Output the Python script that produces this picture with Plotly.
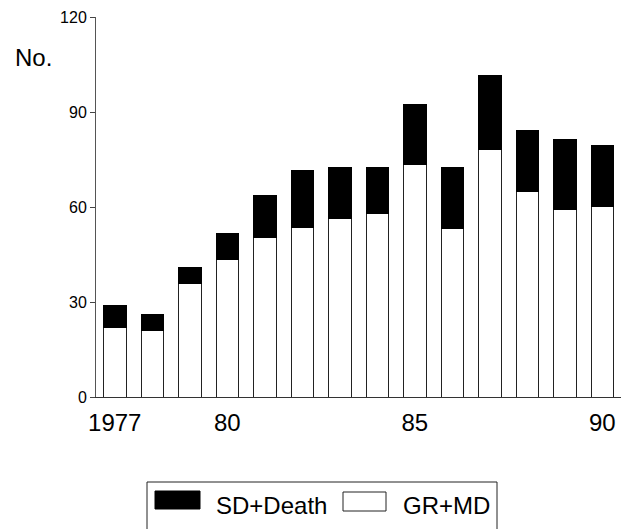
import plotly.graph_objects as go

years = [1977, 1978, 1979, 1980, 1981, 1982, 1983, 1984, 1985, 1986, 1987, 1988, 1989, 1990]
gr_md = [22, 21, 36, 43.5, 50.5, 53.5, 56.3, 58, 73.3, 53.2, 78.3, 65, 59.2, 60.2]
sd_death = [7, 5, 5, 8, 13, 18, 16.3, 14.4, 19.1, 19.2, 23.2, 19.3, 22.1, 19.1]
x_tick_vals = [1977, 1980, 1985, 1990]
x_tick_text = ["1977", "80", "85", "90"]
y_tick_vals = [0, 30, 60, 90, 120]
legend_labels = ["SD+Death", "GR+MD"]

FONT = "Liberation Sans, Arial, sans-serif"
W, H = 626, 529
L, R, T, B = 96, 5, 17, 132
PW = W - L - R
PH = H - T - B


def px(x):
    return (x - L) / PW


def py(y):
    return (H - B - y) / PH


fig = go.Figure()
fig.add_trace(go.Bar(
    x=years, y=gr_md, name=legend_labels[1], width=0.6,
    marker=dict(color="white", line=dict(color="#222", width=1)),
    showlegend=False,
))
fig.add_trace(go.Bar(
    x=years, y=sd_death, name=legend_labels[0], width=0.6,
    marker=dict(color="black", line=dict(color="black", width=1)),
    showlegend=False,
))

shapes = [
    dict(type="rect", xref="paper", yref="paper",
         x0=px(147), x1=px(497), y0=py(482), y1=py(545),
         line=dict(color="#222", width=1), fillcolor="rgba(0,0,0,0)"),
    dict(type="rect", xref="paper", yref="paper",
         x0=px(155), x1=px(200), y0=py(491), y1=py(509),
         line=dict(color="black", width=1), fillcolor="black"),
    dict(type="rect", xref="paper", yref="paper",
         x0=px(343), x1=px(386), y0=py(492), y1=py(511),
         line=dict(color="#222", width=1), fillcolor="white"),
]

annotations = [
    dict(text="No.", xref="paper", yref="paper", x=px(33), y=py(57),
         xanchor="center", yanchor="middle", showarrow=False,
         font=dict(family=FONT, size=24, color="black")),
    dict(text=legend_labels[0], xref="paper", yref="paper", x=px(214), y=py(506),
         xanchor="left", yanchor="middle", showarrow=False,
         font=dict(family=FONT, size=24, color="black")),
    dict(text=legend_labels[1], xref="paper", yref="paper", x=px(401), y=py(506),
         xanchor="left", yanchor="middle", showarrow=False,
         font=dict(family=FONT, size=24, color="black")),
]

fig.update_layout(
    width=W, height=H,
    margin=dict(l=L, r=R, t=T, b=B, pad=0),
    paper_bgcolor="white", plot_bgcolor="white",
    barmode="stack",
    bargap=0.4,
    shapes=shapes,
    annotations=annotations,
    font=dict(family=FONT, color="black"),
    xaxis=dict(
        range=[1976.5, 1990.5],
        tickvals=x_tick_vals, ticktext=x_tick_text,
        ticks="", showgrid=False, zeroline=False,
        showline=True, linecolor="#333", linewidth=1,
        tickfont=dict(family=FONT, size=24, color="black"),
        ticklabelstandoff=4,
    ),
    yaxis=dict(
        range=[0, 120],
        tickvals=y_tick_vals,
        ticks="outside", ticklen=5, tickcolor="#444", tickwidth=1,
        showgrid=False, zeroline=False,
        showline=True, linecolor="#555", linewidth=1,
        tickfont=dict(family=FONT, size=16, color="black"),
    ),
)

fig.write_html("out.html")
